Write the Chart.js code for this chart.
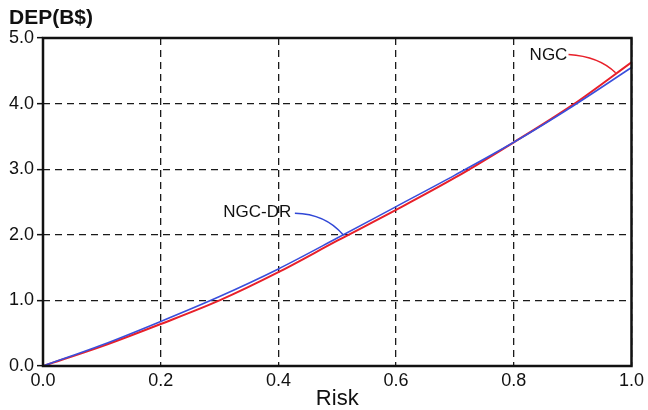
<!DOCTYPE html>
<html>
<head>
<meta charset="utf-8">
<script src="https://cdn.jsdelivr.net/npm/chart.js@4"></script>
<style>
    html, body { margin: 0; padding: 0; background: #fff; }
    #wrap { width: 648px; height: 410px; }
</style>
</head>
<body>
<div id="wrap"><canvas id="depChart"></canvas></div>
<script>
const riskSteps = [0, 0.1, 0.2, 0.3, 0.4, 0.5, 0.6, 0.7, 0.8, 0.9, 1.0];
const ngcValues = [0, 0.3, 0.64, 1.0, 1.43, 1.91, 2.38, 2.87, 3.41, 3.98, 4.63];
const ngcDrValues = [0, 0.32, 0.68, 1.06, 1.48, 1.95, 2.43, 2.91, 3.41, 3.96, 4.55];

const xTicks = [0, 0.2, 0.4, 0.6, 0.8, 1.0];
const yTicks = [0, 1, 2, 3, 4, 5];

const FONT = "'Liberation Sans', Arial, Helvetica, sans-serif";

function toPoints(values) {
    return riskSteps.map((r, i) => ({ x: r, y: values[i] }));
}

// frame, y title and the two callout labels with curved leaders
const decorations = {
    id: "decorations",
    afterDatasetsDraw(chart) {
        const ctx = chart.ctx;
        const area = chart.chartArea;
        const xs = chart.scales.x;
        const ys = chart.scales.y;
        const px = v => xs.getPixelForValue(v);
        const py = v => ys.getPixelForValue(v);

        ctx.save();

        ctx.strokeStyle = "#111";
        ctx.lineWidth = 2.5;
        ctx.strokeRect(area.left, area.top, area.right - area.left, area.bottom - area.top);

        ctx.fillStyle = "#111";
        ctx.font = "bold 21px " + FONT;
        ctx.textAlign = "left";
        ctx.textBaseline = "middle";
        ctx.fillText("DEP(B$)", 9, 18);

        ctx.font = "17px " + FONT;
        ctx.textAlign = "center";
        ctx.fillText("NGC", px(0.859), py(4.74));
        ctx.fillText("NGC-DR", px(0.364), py(2.34));

        ctx.lineWidth = 1.5;
        ctx.strokeStyle = "#e8202a";
        ctx.beginPath();
        ctx.moveTo(px(0.893), py(4.75));
        ctx.quadraticCurveTo(px(0.945), py(4.72), px(0.973), py(4.47));
        ctx.stroke();

        ctx.strokeStyle = "#3047d6";
        ctx.beginPath();
        ctx.moveTo(px(0.428), py(2.33));
        ctx.quadraticCurveTo(px(0.48), py(2.32), px(0.51), py(2.0));
        ctx.stroke();

        ctx.restore();
    }
};

new Chart(document.getElementById("depChart"), {
    type: "line",
    data: {
        datasets: [
            {
                label: "NGC",
                data: toPoints(ngcValues),
                borderColor: "#e8202a",
                borderWidth: 2,
                pointRadius: 0,
                cubicInterpolationMode: "monotone",
                order: 2
            },
            {
                label: "NGC-DR",
                data: toPoints(ngcDrValues),
                borderColor: "#3a4fdc",
                borderWidth: 1.6,
                pointRadius: 0,
                cubicInterpolationMode: "monotone",
                order: 1
            }
        ]
    },
    options: {
        responsive: true,
        maintainAspectRatio: false,
        animation: false,
        layout: {
            padding: { top: 38, right: 15, left: 0, bottom: 0 }
        },
        plugins: {
            legend: { display: false },
            tooltip: { enabled: false }
        },
        scales: {
            x: {
                type: "linear",
                min: 0,
                max: 1,
                afterBuildTicks: scale => {
                    scale.ticks = xTicks.map(v => ({ value: v }));
                },
                afterFit: scale => { scale.height = 44; },
                border: { display: false, dash: [7, 5] },
                grid: {
                    color: "#1a1a1a",
                    lineWidth: 1.3,
                    drawTicks: false
                },
                ticks: {
                    padding: 4,
                    color: "#111",
                    font: { family: FONT, size: 18 },
                    callback: v => Number(v).toFixed(1)
                },
                title: {
                    display: true,
                    text: "Risk",
                    color: "#111",
                    font: { family: FONT, size: 22 },
                    padding: { top: 0, bottom: -2 }
                }
            },
            y: {
                min: 0,
                max: 5,
                afterBuildTicks: scale => {
                    scale.ticks = yTicks.map(v => ({ value: v }));
                },
                afterFit: scale => { scale.width = 43; },
                border: { display: false, dash: [7, 5] },
                grid: {
                    color: "#1a1a1a",
                    lineWidth: 1.3,
                    tickLength: 6,
                    tickColor: "#111",
                    tickWidth: 1.5,
                    tickBorderDash: []
                },
                ticks: {
                    padding: 3,
                    color: "#111",
                    font: { family: FONT, size: 18 },
                    callback: v => Number(v).toFixed(1)
                }
            }
        }
    },
    plugins: [decorations]
});
</script>
</body>
</html>
